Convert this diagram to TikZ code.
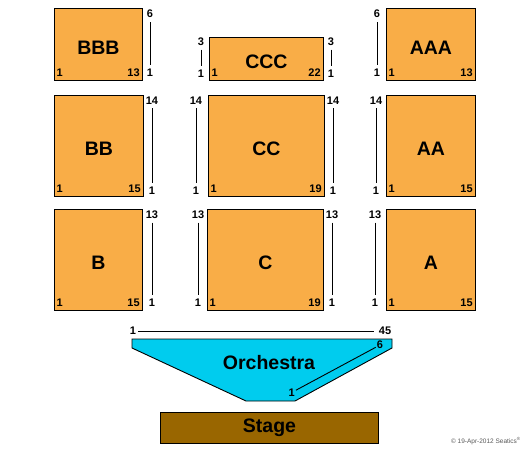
\documentclass[tikz,border=0pt]{standalone}
\usepackage{fontspec}
\setmainfont{Liberation Sans}
\definecolor{seatorange}{HTML}{F9AD47}
\definecolor{orchcyan}{HTML}{00CCEE}
\definecolor{stagebrown}{HTML}{996600}

\begin{document}
\begin{tikzpicture}[x=1pt,y=-1pt,
  block/.style={draw, fill=seatorange, line width=0.9pt, inner sep=0pt, anchor=north west},
  blocklabel/.style={font=\fontsize{19.5}{19.5}\bfseries\selectfont},
  seatnum/.style={font=\fontsize{11}{11}\bfseries\selectfont, inner sep=1pt},
  rowline/.style={line width=0.9pt, shorten <=3pt, shorten >=3pt}]
  \useasboundingbox (0,0) rectangle (525,449);

  % Seating blocks with first and last seat numbers
  \foreach \nm/\lbl/\bx/\by/\bw/\bh/\last in {
      bbb/BBB/54/8/88/72/13, ccc/CCC/209/37/114/43/22, aaa/AAA/386/8/89/72/13,
      bb/BB/54/95/89/101/15, cc/CC/208/95/116/101/19, aa/AA/386/95/89/101/15,
      b/B/54/209/88/101/15, c/C/207/209/116/101/19, a/A/386/209/89/101/15} {
    \node[block, minimum width=\bw pt, minimum height=\bh pt] (\nm) at (\bx,\by) {};
    \node[blocklabel] (\nm-lbl) at ([yshift=-3pt]\nm.center) {\lbl};
    \node[seatnum, anchor=south west] (\nm-first) at ([xshift=1.5pt,yshift=3pt]\nm.south west) {1};
    \node[seatnum, anchor=south east] (\nm-last) at ([xshift=-2pt,yshift=3pt]\nm.south east) {\last};
  }

  % Row markers beside the blocks
  \foreach \rx/\ytop/\ybot/\top [count=\i] in {
      150/14/72.5/6, 201/41.5/73.5/3, 331/41.5/73.5/3, 377/14/72.5/6,
      152/100.5/191/14, 196/100.5/191/14, 333/100.5/191/14, 376/100.5/191/14,
      152/214.5/303/13, 198/214.5/303/13, 332/214.5/303/13, 375/214.5/303/13} {
    \node[seatnum] (rt\i) at (\rx,\ytop) {\top};
    \node[seatnum] (rb\i) at (\rx,\ybot) {1};
    \draw[rowline] (rt\i) -- (rb\i);
  }

  % Orchestra
  \node[seatnum] (orch-s1) at (133,331) {1};
  \node[seatnum] (orch-s45) at (385,331) {45};
  \draw[line width=0.9pt, shorten <=1pt, shorten >=4pt] (orch-s1) -- (orch-s45);
  \draw[fill=orchcyan, line width=0.9pt] (132,339) -- (392,339) -- (392,348)
    -- (295,401) -- (246,401) -- (132,348) -- cycle;
  \node[blocklabel] (orch) at (269,363) {Orchestra};
  \node[seatnum] (orch-r1) at (291.7,392.5) {1};
  \node[seatnum] (orch-r6) at (380,345) {6};
  \draw[line width=0.9pt] (orch-r1) -- (orch-r6);

  % Stage
  \node[draw, fill=stagebrown, line width=0.9pt, minimum width=218pt, minimum height=31pt,
    font=\fontsize{19.5}{19.5}\bfseries\selectfont] (stage) at (269.5,427.5) {Stage};

  % Copyright
  \node[anchor=east, inner sep=0pt, text=black!65, font=\fontsize{6.5}{6.5}\selectfont]
    (copy) at (521,441) {© 19-Apr-2012 Seatics\textsuperscript{®}};
\end{tikzpicture}
\end{document}
